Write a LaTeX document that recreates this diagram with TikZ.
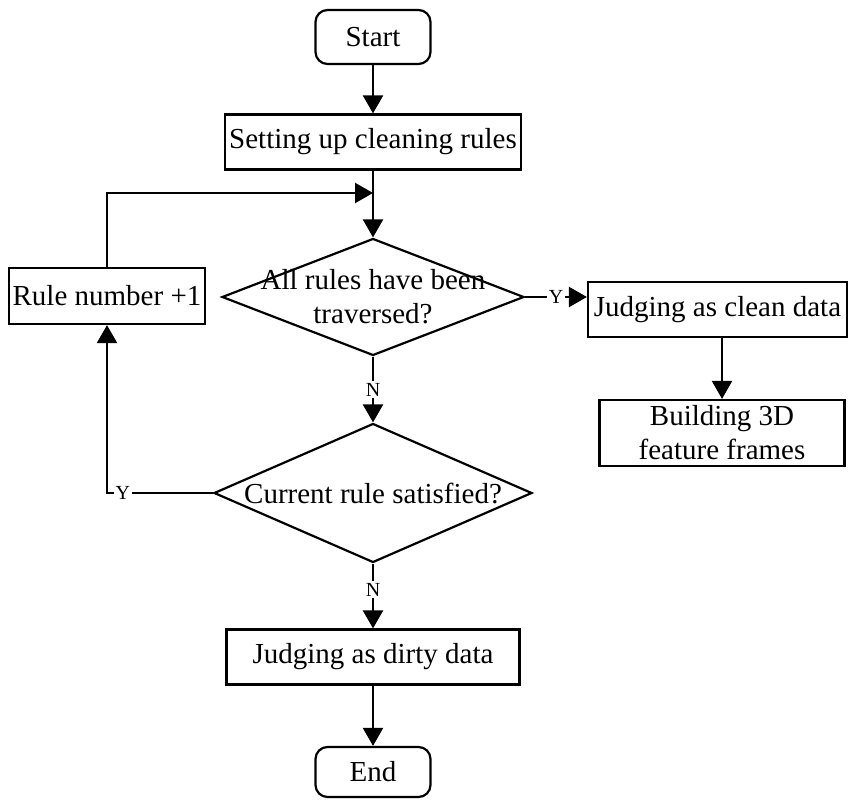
\documentclass[tikz,border=0pt]{standalone}
\usepackage{fontspec}
\setmainfont{Liberation Serif}
\usetikzlibrary{arrows.meta, shapes.geometric, positioning}

\begin{document}
\begin{tikzpicture}[
  x = 0.5pt, y = -0.5pt,
  every node/.style = {font=\fontsize{14.5}{17}\selectfont},
  term/.style   = {rectangle, rounded corners=6pt, draw, line width=1.1pt,
                   minimum width=57.5pt, minimum height=27pt, inner sep=0pt},
  proc/.style   = {rectangle, draw, line width=1.1pt, minimum height=27.5pt,
                   align=center, inner sep=2pt},
  decide/.style = {diamond, draw, line width=1.1pt, inner sep=0pt},
  yn/.style     = {font=\fontsize{10}{11}\selectfont, fill=white, inner sep=1pt},
  arr/.style    = {-{Triangle[length=9pt, width=10pt]}, line width=1.1pt},
  plain/.style  = {line width=1.1pt},
]
\useasboundingbox (0,0) rectangle (849,801);

%% ── Main column ──────────────────────────────────────────────────────────
\node[term]                                        (start) at (373,37)  {Start};
\node[proc, minimum width=146.5pt]                 (setup) at (373,142) {Setting up cleaning rules};
\coordinate                                        (join)  at (373,193);
\node[decide, minimum width=151pt, minimum height=58.5pt,
      label={[align=center]center:{All rules have been\\traversed?}}]
                                                   (trav)  at (373,297) {};
\node[decide, minimum width=159pt, minimum height=69.5pt,
      label={center:Current rule satisfied?}]      (cur)   at (373,493) {};
\node[proc, minimum width=146.5pt]                 (dirty) at (373,657) {Judging as dirty data};
\node[term, minimum height=25pt]                   (end)   at (373,772) {End};

%% ── Side boxes ───────────────────────────────────────────────────────────
\node[proc, minimum width=94.5pt, minimum height=28pt] (inc)   at (107,296)   {Rule number +1};
\node[proc, minimum width=129.5pt]                     (clean) at (717.5,309.5) {Judging as clean data};
\node[proc, minimum width=122.5pt, minimum height=33pt] (build) at (722,433)   {Building 3D\\feature frames};

%% ── Arrows ───────────────────────────────────────────────────────────────
\draw[arr]   (start) -- (setup);
\draw[plain] (setup) -- (join);
\draw[arr]   (join)  -- (trav);
\draw[arr]   (inc.north) |- (join);
\draw[arr]   (trav.east) -- node[yn] {Y} (trav.east -| clean.west);
\draw[arr]   (build.north |- clean.south) -- (build.north);
\draw[arr]   (trav.south) -- node[yn] {N} (cur.north);
\draw[arr]   (cur.west) -- node[yn, pos=0.85] {Y} (cur.west -| inc.south) -- (inc.south);
\draw[arr]   (cur.south) -- node[yn, pos=0.4] {N} (dirty.north);
\draw[arr]   (dirty) -- (end);

\end{tikzpicture}
\end{document}
